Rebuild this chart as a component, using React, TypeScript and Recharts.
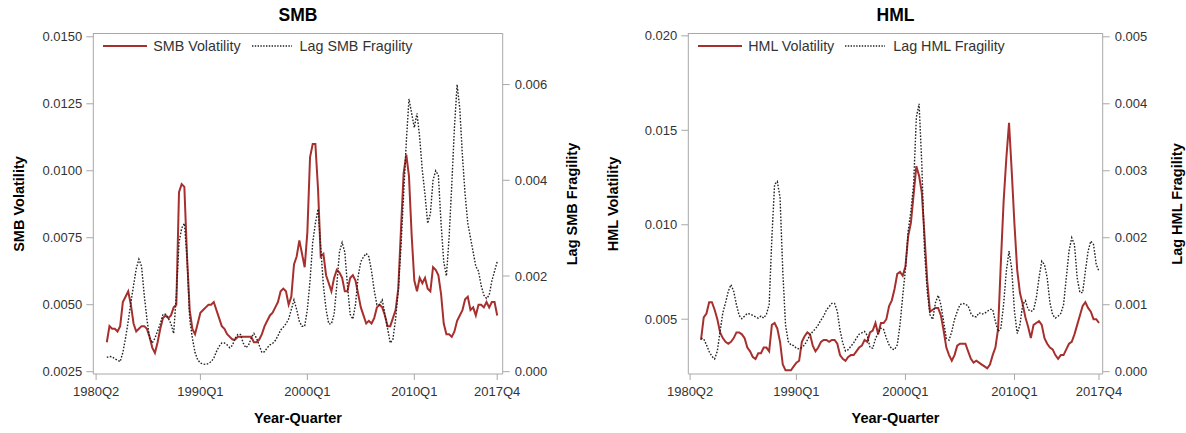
import React from 'react';
import { LineChart, Line, XAxis, YAxis, Legend } from 'recharts';

// ---------- data (quarterly, 1981Q2 .. 2017Q4) ----------
const firstQuarter = '1981Q2';

const smbVolatility = [
  0.0036, 0.0042, 0.0041, 0.0041, 0.0040, 0.0042, 0.0051, 0.0053, 0.0055, 0.0050,
  0.0043, 0.0040, 0.0041, 0.0042, 0.0042, 0.0041, 0.0038, 0.0034, 0.0032, 0.0036,
  0.0041, 0.0045, 0.0046, 0.0045, 0.0046, 0.0049, 0.0050, 0.0092, 0.0095, 0.0094,
  0.0068, 0.0048, 0.0041, 0.0039, 0.0043, 0.0047, 0.0048, 0.0049, 0.0050, 0.0050,
  0.0051, 0.0048, 0.0045, 0.0042, 0.0041, 0.0039, 0.0038, 0.0037, 0.0037, 0.0038,
  0.0038, 0.0038, 0.0038, 0.0038, 0.0038, 0.0036, 0.0036, 0.0037, 0.0039, 0.0042,
  0.0044, 0.0046, 0.0047, 0.0049, 0.0051, 0.0055, 0.0056, 0.0055, 0.0050, 0.0053,
  0.0065, 0.0068, 0.0074, 0.0069, 0.0064, 0.0077, 0.0105, 0.0110, 0.0110, 0.0093,
  0.0068, 0.0069, 0.0061, 0.0058, 0.0055, 0.0060, 0.0063, 0.0062, 0.0060, 0.0055,
  0.0055, 0.0060, 0.0061, 0.0059, 0.0054, 0.0049, 0.0046, 0.0043, 0.0044, 0.0043,
  0.0045, 0.0049, 0.0050, 0.0049, 0.0046, 0.0042, 0.0042, 0.0045, 0.0048, 0.0056,
  0.0078, 0.0099, 0.0106, 0.0098, 0.0076, 0.0059, 0.0055, 0.0060, 0.0058, 0.0060,
  0.0056, 0.0055, 0.0064, 0.0063, 0.0061, 0.0054, 0.0043, 0.0039, 0.0039, 0.0038,
  0.0040, 0.0044, 0.0046, 0.0048, 0.0052, 0.0053, 0.0048, 0.0049, 0.0046, 0.0050,
  0.0050, 0.0049, 0.0051, 0.0049, 0.0051, 0.0051, 0.0046,
];

const smbFragility = [
  0.00030, 0.00032, 0.00031, 0.00027, 0.00024, 0.00021, 0.00040, 0.00070, 0.00105, 0.00145,
  0.00180, 0.00215, 0.00235, 0.00220, 0.00160, 0.00110, 0.00070, 0.00060, 0.00070, 0.00085,
  0.00100, 0.00120, 0.00120, 0.00112, 0.00100, 0.00080, 0.00160, 0.00270, 0.00300, 0.00310,
  0.00240, 0.00110, 0.00070, 0.00040, 0.00025, 0.00018, 0.00016, 0.00015, 0.00017, 0.00021,
  0.00028, 0.00042, 0.00053, 0.00060, 0.00060, 0.00056, 0.00050, 0.00055, 0.00070, 0.00078,
  0.00078, 0.00060, 0.00050, 0.00055, 0.00070, 0.00080, 0.00070, 0.00055, 0.00040, 0.00042,
  0.00050, 0.00056, 0.00059, 0.00065, 0.00075, 0.00087, 0.00093, 0.00100, 0.00110, 0.00130,
  0.00150, 0.00130, 0.00105, 0.00095, 0.00095, 0.00130, 0.00190, 0.00270, 0.00310, 0.00340,
  0.00260, 0.00180, 0.00130, 0.00100, 0.00100, 0.00120, 0.00180, 0.00250, 0.00270, 0.00250,
  0.00180, 0.00120, 0.00110, 0.00140, 0.00200, 0.00230, 0.00240, 0.00247, 0.00240, 0.00210,
  0.00170, 0.00140, 0.00140, 0.00150, 0.00120, 0.00090, 0.00060, 0.00068, 0.00110, 0.00170,
  0.00260, 0.00370, 0.00480, 0.00570, 0.00540, 0.00510, 0.00540, 0.00490, 0.00420, 0.00370,
  0.00310, 0.00330, 0.00400, 0.00420, 0.00410, 0.00310, 0.00230, 0.00200, 0.00280, 0.00390,
  0.00510, 0.00600, 0.00550, 0.00450, 0.00370, 0.00310, 0.00280, 0.00250, 0.00220, 0.00210,
  0.00180, 0.00160, 0.00153, 0.00160, 0.00190, 0.00210, 0.00230,
];

const hmlVolatility = [
  0.0039, 0.0051, 0.0053, 0.0059, 0.0059, 0.0055, 0.0050, 0.0043, 0.0040, 0.0038,
  0.0037, 0.0038, 0.0040, 0.0043, 0.0043, 0.0042, 0.0040, 0.0035, 0.0033, 0.0030,
  0.0029, 0.0032, 0.0032, 0.0035, 0.0035, 0.0033, 0.0047, 0.0048, 0.0045, 0.0038,
  0.0026, 0.0023, 0.0023, 0.0023, 0.0025, 0.0027, 0.0028, 0.0038, 0.0041, 0.0043,
  0.0042, 0.0036, 0.0033, 0.0035, 0.0038, 0.0039, 0.0039, 0.0038, 0.0039, 0.0039,
  0.0037, 0.0031, 0.0029, 0.0028, 0.0030, 0.0031, 0.0031, 0.0033, 0.0035, 0.0036,
  0.0039, 0.0038, 0.0043, 0.0044, 0.0048, 0.0042, 0.0048, 0.0048, 0.0050, 0.0057,
  0.0060, 0.0066, 0.0074, 0.0075, 0.0073, 0.0078, 0.0094, 0.0101, 0.0116, 0.0131,
  0.0126, 0.0117, 0.0094, 0.0070, 0.0054, 0.0055, 0.0056, 0.0056, 0.0052, 0.0044,
  0.0035, 0.0031, 0.0028, 0.0031, 0.0036, 0.0037, 0.0037, 0.0037, 0.0033, 0.0029,
  0.0027, 0.0028, 0.0027, 0.0026, 0.0025, 0.0024, 0.0026, 0.0031, 0.0035, 0.0045,
  0.0080, 0.0112, 0.0135, 0.0154, 0.0128, 0.0100, 0.0076, 0.0064, 0.0058, 0.0051,
  0.0046, 0.0040, 0.0047, 0.0048, 0.0049, 0.0047, 0.0040, 0.0037, 0.0035, 0.0034,
  0.0031, 0.0029, 0.0031, 0.0031, 0.0034, 0.0037, 0.0038, 0.0042, 0.0047, 0.0052,
  0.0057, 0.0059, 0.0056, 0.0054, 0.0050, 0.0050, 0.0048,
];

const hmlFragility = [
  0.00050, 0.00049, 0.00040, 0.00030, 0.00023, 0.00019, 0.00031, 0.00060, 0.00088, 0.00103,
  0.00120, 0.00130, 0.00120, 0.00100, 0.00084, 0.00079, 0.00083, 0.00087, 0.00086, 0.00084,
  0.00082, 0.00080, 0.00083, 0.00080, 0.00086, 0.00100, 0.00200, 0.00280, 0.00284, 0.00260,
  0.00150, 0.00070, 0.00045, 0.00040, 0.00039, 0.00035, 0.00034, 0.00036, 0.00040, 0.00047,
  0.00055, 0.00060, 0.00064, 0.00070, 0.00077, 0.00083, 0.00092, 0.00097, 0.00102, 0.00102,
  0.00090, 0.00062, 0.00043, 0.00031, 0.00033, 0.00038, 0.00043, 0.00050, 0.00056, 0.00058,
  0.00060, 0.00054, 0.00036, 0.00035, 0.00049, 0.00058, 0.00065, 0.00063, 0.00050, 0.00040,
  0.00034, 0.00033, 0.00040, 0.00070, 0.00113, 0.00153, 0.00210, 0.00240, 0.00280, 0.00380,
  0.00400, 0.00310, 0.00180, 0.00120, 0.00085, 0.00078, 0.00103, 0.00114, 0.00100, 0.00075,
  0.00050, 0.00047, 0.00060, 0.00078, 0.00090, 0.00100, 0.00102, 0.00101, 0.00098, 0.00087,
  0.00082, 0.00082, 0.00088, 0.00086, 0.00087, 0.00090, 0.00093, 0.00093, 0.00075, 0.00060,
  0.00065, 0.00100, 0.00150, 0.00180, 0.00153, 0.00090, 0.00057, 0.00070, 0.00100, 0.00106,
  0.00093, 0.00090, 0.00092, 0.00110, 0.00140, 0.00165, 0.00160, 0.00140, 0.00103, 0.00085,
  0.00080, 0.00083, 0.00087, 0.00100, 0.00140, 0.00180, 0.00200, 0.00190, 0.00140, 0.00118,
  0.00118, 0.00150, 0.00180, 0.00195, 0.00190, 0.00160, 0.00150,
];

const xTickLabels = ['1980Q2', '1990Q1', '2000Q1', '2010Q1', '2017Q4'];
const smbVolTicks = [0.0025, 0.005, 0.0075, 0.01, 0.0125, 0.015];
const smbFragTicks = [0, 0.002, 0.004, 0.006];
const hmlVolTicks = [0.005, 0.01, 0.015, 0.02];
const hmlFragTicks = [0, 0.001, 0.002, 0.003, 0.004, 0.005];

// ---------- helpers ----------
const quarterIndex = (label: string) => {
  const y = Number(label.slice(0, 4));
  const q = Number(label.slice(5));
  return (y - 1980) * 4 + (q - 2);
};
const indexLabel = (i: number) => {
  const y = 1980 + Math.floor((i + 1) / 4);
  const q = ((i + 1) % 4) + 1;
  return `${y}Q${q}`;
};
const startIdx = quarterIndex(firstQuarter);
const quarters = smbVolatility.map((_, k) => indexLabel(startIdx + k));
const xTicks = xTickLabels.map(quarterIndex);

const buildRows = (vol: number[], frag: number[]) =>
  quarters.map((quarter, k) => ({ t: quarterIndex(quarter), quarter, vol: vol[k], frag: frag[k] }));

const smbRows = buildRows(smbVolatility, smbFragility);
const hmlRows = buildRows(hmlVolatility, hmlFragility);

// ---------- styling ----------
const RED = '#a6302e';
const DOT = '#222222';
const FRAME = '#a8a8a8';
const FONT = '"Liberation Sans", Arial, Helvetica, sans-serif';
const tickStyle = { fill: '#333', fontSize: 13, fontFamily: FONT };

type PanelProps = {
  left: number;
  width: number;
  title: string;
  rows: { t: number; quarter: string; vol: number; frag: number }[];
  leftAxisWidth: number;
  rightAxisWidth: number;
  xDomain: [number, number];
  volDomain: [number, number];
  fragDomain: [number, number];
  volTicks: number[];
  fragTicks: number[];
  volDigits: number;
  fragDigits: number;
  leftTitleX: number;
  rightTitleX: number;
};

const TOP = 33;
const HEIGHT = 433;
const XAXIS_H = 59;

const Panel = (p: PanelProps) => {
  const plotLeft = p.leftAxisWidth;
  const plotRight = p.width - p.rightAxisWidth;
  const plotCx = (plotLeft + plotRight) / 2;
  const plotBottom = HEIGHT - XAXIS_H;
  const plotCy = (TOP + plotBottom) / 2;

  const legendContent = () => (
    <div
      style={{
        display: 'flex',
        alignItems: 'center',
        fontFamily: FONT,
        fontSize: 14.3,
        color: '#333',
        whiteSpace: 'nowrap',
        lineHeight: '16px',
      }}
    >
      <svg width={44} height={10} style={{ display: 'block' }}>
        <line x1={0} y1={5} x2={44} y2={5} stroke={RED} strokeWidth={2} />
      </svg>
      <span style={{ marginLeft: 6.5 }}>{p.title} Volatility</span>
      <svg width={42} height={10} style={{ display: 'block', marginLeft: 11 }}>
        <line x1={0} y1={5} x2={40} y2={5} stroke={DOT} strokeWidth={1.3} strokeDasharray="1.4 1.4" />
      </svg>
      <span style={{ marginLeft: 6 }}>Lag {p.title} Fragility</span>
    </div>
  );

  const rotated = (cx: number): React.CSSProperties => ({
    position: 'absolute',
    left: cx - 150,
    top: plotCy - 10,
    width: 300,
    height: 20,
    lineHeight: '20px',
    textAlign: 'center',
    transform: 'rotate(-90deg)',
    fontFamily: FONT,
    fontWeight: 'bold',
    fontSize: 14.5,
    color: '#000',
    whiteSpace: 'nowrap',
  });

  return (
    <div style={{ position: 'absolute', left: p.left, top: 0, width: p.width, height: HEIGHT }}>
      <LineChart
        width={p.width}
        height={HEIGHT}
        data={p.rows}
        margin={{ top: TOP, right: 0, bottom: 0, left: 0 }}
      >
        <XAxis
          dataKey="t"
          type="number"
          domain={p.xDomain}
          ticks={xTicks}
          interval={0}
          tickFormatter={(v: number) => indexLabel(v)}
          tick={tickStyle}
          tickSize={6}
          tickMargin={7}
          height={XAXIS_H}
          stroke={FRAME}
          axisLine={{ stroke: FRAME }}
          tickLine={{ stroke: FRAME }}
          allowDataOverflow
        />
        <YAxis
          yAxisId="left"
          orientation="left"
          type="number"
          domain={p.volDomain}
          ticks={p.volTicks}
          interval={0}
          width={p.leftAxisWidth}
          tickFormatter={(v: number) => v.toFixed(p.volDigits)}
          tick={tickStyle}
          tickSize={7}
          tickMargin={4}
          axisLine={{ stroke: FRAME }}
          tickLine={{ stroke: FRAME }}
          allowDataOverflow
        />
        <YAxis
          yAxisId="right"
          orientation="right"
          type="number"
          domain={p.fragDomain}
          ticks={p.fragTicks}
          interval={0}
          width={p.rightAxisWidth}
          tickFormatter={(v: number) => v.toFixed(p.fragDigits)}
          tick={tickStyle}
          tickSize={7}
          tickMargin={5}
          axisLine={{ stroke: FRAME }}
          tickLine={{ stroke: FRAME }}
          allowDataOverflow
        />
        <Legend
          layout="horizontal"
          verticalAlign="middle"
          align="center"
          content={legendContent}
          wrapperStyle={{ left: plotLeft + 9.4, top: 38, width: 'auto', height: 16, background: 'transparent' }}
        />
        <Line
          yAxisId="left"
          dataKey="vol"
          name={`${p.title} Volatility`}
          type="linear"
          stroke={RED}
          strokeWidth={2}
          dot={false}
          activeDot={false}
          isAnimationActive={false}
        />
        <Line
          yAxisId="right"
          dataKey="frag"
          name={`Lag ${p.title} Fragility`}
          type="linear"
          stroke={DOT}
          strokeWidth={1.4}
          strokeDasharray="1.6 1.6"
          dot={false}
          activeDot={false}
          isAnimationActive={false}
        />
      </LineChart>

      {/* plot frame (top edge; the other edges sit on the axis lines) */}
      <div
        style={{
          position: 'absolute',
          left: Math.round(plotLeft),
          top: TOP,
          width: Math.round(plotRight - plotLeft),
          height: plotBottom - TOP,
          boxSizing: 'border-box',
          borderTop: `1px solid ${FRAME}`,
          zIndex: 20,
          pointerEvents: 'none',
        }}
      />

      <div
        style={{
          position: 'absolute',
          left: plotCx - 100,
          top: 5,
          width: 200,
          height: 20,
          lineHeight: '20px',
          textAlign: 'center',
          fontFamily: FONT,
          fontWeight: 'bold',
          fontSize: 17.5,
          color: '#000',
        }}
      >
        {p.title}
      </div>
      <div
        style={{
          position: 'absolute',
          left: plotCx - 100,
          top: 408,
          width: 200,
          height: 20,
          lineHeight: '20px',
          textAlign: 'center',
          fontFamily: FONT,
          fontWeight: 'bold',
          fontSize: 14.5,
          color: '#000',
        }}
      >
        Year-Quarter
      </div>
      <div style={rotated(p.leftTitleX)}>{p.title} Volatility</div>
      <div style={rotated(p.rightTitleX)}>Lag {p.title} Fragility</div>
    </div>
  );
};

export default function App() {
  return (
    <div
      style={{
        position: 'absolute',
        left: 0,
        top: 0,
        width: 1186,
        height: 433,
        background: '#fff',
        overflow: 'hidden',
      }}
    >
      <Panel
        left={0}
        width={590}
        title="SMB"
        rows={smbRows}
        leftAxisWidth={93.3}
        rightAxisWidth={87.3}
        xDomain={[-1.05, 152.05]}
        volDomain={[0.002414, 0.015142]}
        fragDomain={[-0.0000481, 0.007078]}
        volTicks={smbVolTicks}
        fragTicks={smbFragTicks}
        volDigits={4}
        fragDigits={3}
        leftTitleX={18.7}
        rightTitleX={571.7}
      />
      <Panel
        left={590}
        width={596}
        title="HML"
        rows={hmlRows}
        leftAxisWidth={98.3}
        rightAxisWidth={83.3}
        xDomain={[-0.66, 151.36]}
        volDomain={[0.0021, 0.02015]}
        fragDomain={[-0.0000344, 0.005057]}
        volTicks={hmlVolTicks}
        fragTicks={hmlFragTicks}
        volDigits={3}
        fragDigits={3}
        leftTitleX={23}
        rightTitleX={587}
      />
    </div>
  );
}
